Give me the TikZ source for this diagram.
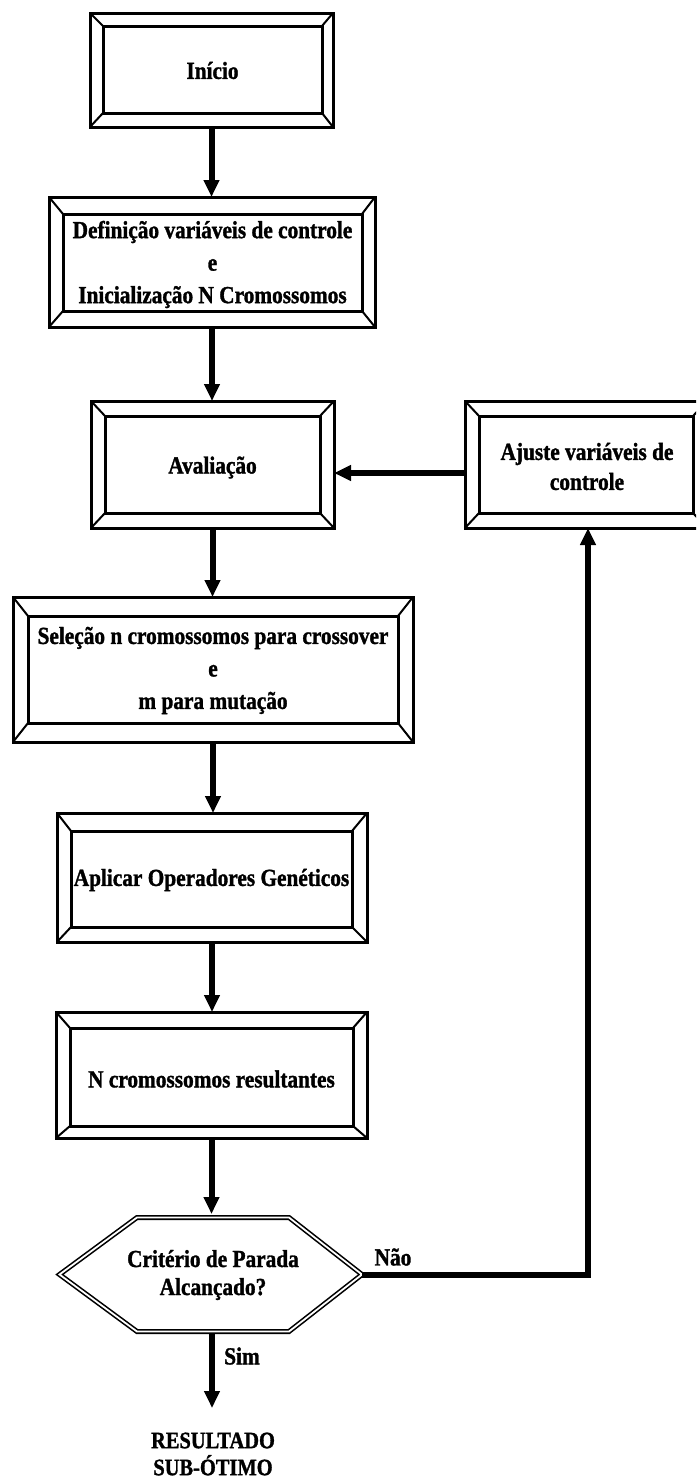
\documentclass[tikz,border=0pt]{standalone}
\usepackage{fontspec}
\setmainfont{Liberation Serif}[FakeStretch=0.87, BoldFeatures={FakeBold=1.3}]
\usetikzlibrary{arrows.meta}
\tikzset{
  boxline/.style={draw, line width=3pt, inner sep=0pt, outer sep=0pt},
  bevel/.style={line width=2pt},
  txt/.style={font=\fontsize{24.5}{32.5}\selectfont\bfseries, align=center, inner sep=0pt},
  lbl/.style={font=\fontsize{24.5}{26}\selectfont\bfseries, align=center, inner sep=0pt},
  flow/.style={line width=6pt, -{Triangle[width=15pt,length=17pt]}},
  hexline/.style={line width=1.6pt, double, double distance=1.8pt},
}
\newcommand{\bevbox}[9]{%
  \pgfmathsetmacro\bcx{(#2+#4)/2}\pgfmathsetmacro\bcy{(#3+#5)/2}%
  \pgfmathsetmacro\bw{#4-#2}\pgfmathsetmacro\bh{#5-#3}%
  \node[boxline, minimum width=\bw pt, minimum height=\bh pt] (#1) at (\bcx,\bcy) {};%
  \pgfmathsetmacro\bcx{(#6+#8)/2}\pgfmathsetmacro\bcy{(#7+#9)/2}%
  \pgfmathsetmacro\bw{#8-#6}\pgfmathsetmacro\bh{#9-#7}%
  \node[boxline, minimum width=\bw pt, minimum height=\bh pt] (#1i) at (\bcx,\bcy) {};%
  \draw[bevel] (#1.north west) -- (#1i.north west);%
  \draw[bevel] (#1.north east) -- (#1i.north east);%
  \draw[bevel] (#1.south west) -- (#1i.south west);%
  \draw[bevel] (#1.south east) -- (#1i.south east);%
}
\begin{document}
\begin{tikzpicture}[x=1pt,y=-1pt]
\useasboundingbox (0,0) rectangle (696,1483);
\clip (0,0) rectangle (696,1483);
\fill[white] (0,0) rectangle (696,1483);

% boxes
\bevbox{b1}{90}{13}{333}{127}{103}{26}{322}{113}
\node[txt] (t1) at ([yshift=-1pt]b1i) {Início};

\bevbox{b2}{49}{197}{375}{327}{63}{214}{362}{311}
\node[txt] (t2) at ([yshift=-2pt]b2i) {Definição variáveis de controle\\e\\Inicialização N Cromossomos};

\bevbox{b3}{91}{401}{334}{528}{105}{416}{320}{513}
\node[txt] (t3) at ([yshift=-3pt]b3i) {Avaliação};

\bevbox{b7}{465}{401}{707}{528}{479}{416}{693}{513}
\node[txt, font=\fontsize{24.5}{30}\selectfont\bfseries] (t7) at ([xshift=1pt,yshift=-2pt]b7i) {Ajuste variáveis de\\controle};

\bevbox{b4}{13}{597}{413}{742}{28}{616}{398}{723}
\node[txt] (t4) at ([yshift=-1pt]b4i) {Seleção n cromossomos para crossover\\e\\m para mutação};

\bevbox{b5}{57}{813}{367}{942}{71}{831}{352}{927}
\node[txt] (t5) at ([yshift=-1pt]b5i) {Aplicar Operadores Genéticos};

\bevbox{b6}{56}{1012}{367}{1138}{70}{1028}{353}{1126}
\node[txt] (t6) at ([yshift=-2pt]b6i) {N cromossomos resultantes};

% hexagon decision
\coordinate (hL) at (59.5,1274.5);
\coordinate (hTL) at (137,1217.5);
\coordinate (hTR) at (289,1217.5);
\coordinate (hR) at (362,1274.5);
\coordinate (hBR) at (289,1331.5);
\coordinate (hBL) at (137,1331.5);
\coordinate (hT) at (212,1214);
\coordinate (hB) at (212,1333);
\draw[hexline] (hL) -- (hTL) -- (hTR) -- (hR) -- (hBR) -- (hBL) -- cycle;
\node[txt, font=\fontsize{24.5}{28}\selectfont\bfseries] (hex) at (213,1275) {Critério de Parada\\Alcançado?};

% labels
\node[lbl] (nao) at (393,1257) {Não};
\node[lbl] (sim) at (242,1356) {Sim};
\node[lbl, font=\fontsize{23.5}{27}\selectfont\bfseries] (res) at (213,1454) {RESULTADO\\SUB-ÓTIMO};
\coordinate (resIn) at (212,1408);

% connectors
\draw[flow] (b1.south) -- (b1.south |- b2.north);
\draw[flow] (b2.south) -- (b2.south |- b3.north);
\draw[flow] (b3.south) -- (b3.south |- b4.north);
\draw[flow] (b4.south) -- (b4.south |- b5.north);
\draw[flow] (b5.south) -- (b5.south |- b6.north);
\draw[flow] (b6.south) -- (b6.south |- hT);
\draw[flow] (hB) -- (resIn);
\coordinate (fbC) at (588,1274.5);
\coordinate (fbT) at (588,528);
\draw[flow, line join=miter] (hR) -- (fbC) -- (fbT);
\draw[flow] ([yshift=-8.5pt]b7.west) -- ([yshift=-8.5pt]b7.west -| b3.east);
\end{tikzpicture}
\end{document}
